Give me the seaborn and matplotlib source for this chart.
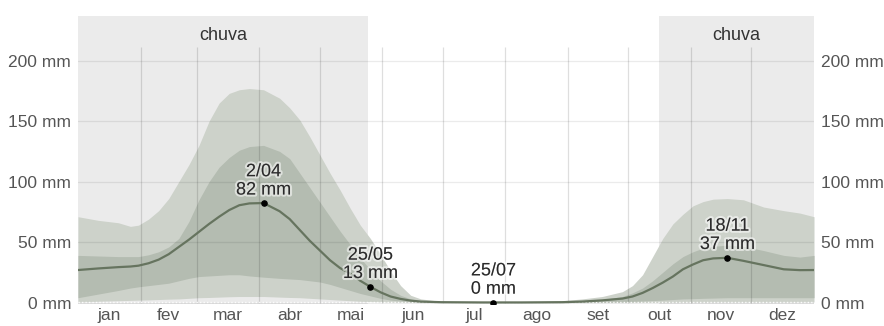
import numpy as np
import pandas as pd
import seaborn as sns
import matplotlib.pyplot as plt
import matplotlib.patheffects as pe

# day of year where the rainfall percentiles were read
doy = [0, 10, 20, 26, 30, 35, 40, 45, 50, 55, 60, 65, 70, 75, 80, 85, 92, 100, 105,
       110, 115, 120, 125, 130, 135, 140, 145, 150, 155, 160, 165, 170, 180, 200,
       220, 240, 250, 260, 270, 275, 280, 285, 290, 295, 300, 305, 310, 315, 322,
       330, 340, 350, 358, 365]

# 31-day rolling rainfall (mm)
p10 = [0.5, 1, 1.5, 1.8, 2, 2.2, 2.5, 2.8, 3, 3.5, 4, 4.2, 4.5, 4.8, 5, 5, 5, 4.5,
       4.2, 4, 3.5, 3, 2.5, 2, 1.5, 1, 0.7, 0.5, 0.3, 0.2, 0.1, 0, 0, 0,
       0, 0, 0, 0, 0, 0, 0.1, 0.1, 0.2, 0.2, 0.3, 0.3, 0.3, 0.4, 0.4,
       0.4, 0.4, 0.4, 0.5, 0.5]
p25 = [4, 7, 10, 12, 13, 14, 15, 16, 18, 20, 21.5, 22, 22.5, 23, 23, 22, 21, 20,
       19.5, 19, 18, 17, 15, 12.5, 10, 7.5, 5.5, 3.5, 2, 1.2, 0.6, 0.3, 0.1, 0,
       0, 0, 0.1, 0.3, 0.6, 0.9, 1.2, 1.6, 2, 2.5, 3, 3.2, 3.5, 3.7, 4,
       4, 4, 4, 4, 4]
p50 = [26.9, 28.2, 29.3, 29.8, 30.5, 32.5, 35.5, 40, 46, 52, 58.5, 65, 71, 76.5,
       80.5, 82, 82.3, 75.5, 69, 60, 51, 43, 35, 28.5, 24, 18, 13, 8.5, 5, 3, 1.6,
       0.8, 0.3, 0.1, 0.1, 0.3, 0.8, 1.8, 3.3, 5, 8, 12, 16.5, 21.5, 27.5, 31.5,
       35, 36.5, 37, 34.5, 31, 27.5, 26.8, 26.9]
p75 = [39, 38.5, 38, 38, 38, 39.5, 42, 46, 53, 67, 85, 100, 112, 120, 126, 129,
       130, 125, 119, 107, 95, 83, 71, 59, 48, 37, 27, 18, 11, 6, 3, 1.5, 0.5,
       0.2, 0.2, 0.6, 1.2, 2.5, 5, 8, 12, 18, 25, 32, 38, 42, 45, 46.5, 47.5,
       46.5, 43, 39, 37.6, 39]
p90 = [71, 68, 66, 63, 64, 69, 76, 86, 100, 114, 130, 150, 165, 173, 176, 177,
       176, 169, 161, 151, 137, 122, 107, 93, 78, 64, 53, 40, 26, 14, 6, 3, 1,
       0.4, 0.4, 1.5, 3, 5, 9, 14, 23, 38, 53, 65, 73, 80, 83.5, 85.5, 86,
       85, 79, 76, 74, 71]

months = ["jan", "fev", "mar", "abr", "mai", "jun", "jul", "ago", "set", "out", "nov", "dez"]
month_days = [31, 28, 31, 30, 31, 30, 31, 31, 30, 31, 30, 31]

# rainy seasons (day of year)
rain_seasons = [(0, 143.6), (288.3, 365)]

# highlighted points
note_doy = [92, 145, 206, 322]
note_val = [82, 13, 0, 37]
note_lbl = ["2/04\n82 mm", "25/05\n13 mm", "25/07\n0 mm", "18/11\n37 mm"]

df = pd.DataFrame({"doy": doy, "p10": p10, "p25": p25, "p50": p50, "p75": p75, "p90": p90})

sns.set_style("white")
plt.rcParams["font.family"] = ["Liberation Sans", "DejaVu Sans"]

fig = plt.figure(figsize=(8.84, 3.26), dpi=100)
ax = fig.add_axes([78 / 884, 1 - 304 / 326, (814 - 78) / 884, (304 - 16) / 326])

# rainy season shading
for a, b in rain_seasons:
    ax.axvspan(a, b, color="#ebebeb", lw=0, zorder=0)
    ax.text((a + b) / 2, 221, "chuva", ha="center", va="center",
            fontsize=13, color="#333333")

ax.fill_between(df["doy"], df["p10"], df["p90"], color="#cdd2ca", lw=0, zorder=1)
ax.fill_between(df["doy"], df["p25"], df["p75"], color="#b4bcb1", lw=0, zorder=2)

# grid on top of bands
for v in [0, 50, 100, 150, 200]:
    ax.axhline(v, color=(0, 0, 0, 0.08), lw=0.9, zorder=3)
bounds = np.cumsum(month_days)[:-1]
ax.vlines(bounds, 0, 211, color=(0, 0, 0, 0.13), lw=0.9, zorder=3)
ax.axhline(0.6, color="white", ls=(0, (1, 1.5)), lw=1.0, alpha=0.9, zorder=3)

sns.lineplot(data=df, x="doy", y="p50", ax=ax, color="#66745f", lw=1.6, zorder=4)

ax.scatter(note_doy, note_val, s=14, color="black", zorder=5)
halo = [pe.withStroke(linewidth=3, foreground=(1, 1, 1, 0.55))]
for x, y, t in zip(note_doy, note_val, note_lbl):
    ax.annotate(t, (x, y), xytext=(0, 3.5), textcoords="offset points",
                ha="center", va="bottom", fontsize=13, color="#2a2a2a",
                linespacing=1.1, path_effects=halo, zorder=6)

ax.set_xlim(0, 365)
ax.set_ylim(-1.2, 237)
mids = np.cumsum(month_days) - np.array(month_days) / 2
ax.set_xticks(mids)
ax.set_xticklabels(months)
ax.set_yticks([0, 50, 100, 150, 200])
ax.set_yticklabels([f"{v} mm" for v in [0, 50, 100, 150, 200]])
ax.tick_params(axis="both", length=0, labelsize=12.5, colors="#555555")
ax.tick_params(axis="x", pad=3)
ax.tick_params(axis="y", pad=5, labelright=True)
ax.set_xlabel("")
ax.set_ylabel("")
for s in ax.spines.values():
    s.set_visible(False)

fig.savefig("out.png", dpi=100)
